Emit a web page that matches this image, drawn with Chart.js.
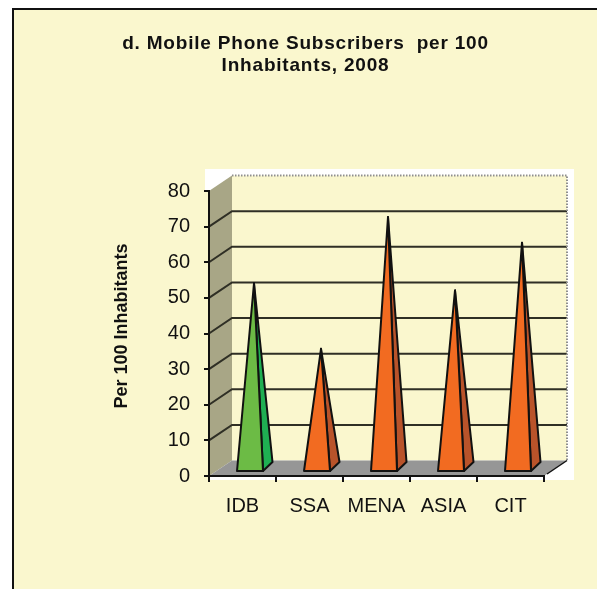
<!DOCTYPE html>
<html>
<head>
<meta charset="utf-8">
<style>html,body{margin:0;padding:0;background:#fff}canvas{display:block}</style>
<script src="https://cdn.jsdelivr.net/npm/chart.js@4"></script>
</head>
<body>
<div style="width:597px;height:589px"><canvas id="c" width="597" height="589"></canvas></div>
<script>
const categories = ['IDB', 'SSA', 'MENA', 'ASIA', 'CIT'];
const subscribers = [52, 33.6, 70.6, 50, 63.4];
const frontColors = ['#6CBB45', '#F26B21', '#F26B21', '#F26B21', '#F26B21'];
const sideColors = ['#1FAF52', '#B9532A', '#B9532A', '#B9532A', '#B9532A'];
const titleLines = ['d. Mobile Phone Subscribers  per 100', 'Inhabitants, 2008'];
const yAxisTitle = 'Per 100 Inhabitants';

const CREAM = '#FAF7CE', DX = 23, DY = 15.5;

const scene = {
  id: 'scene',
  beforeDraw(chart) {
    const { ctx, chartArea: a, scales: { y } } = chart;
    ctx.save();
    ctx.fillStyle = '#fff';
    ctx.fillRect(0, 0, 597, 589);
    ctx.fillStyle = CREAM;
    ctx.fillRect(13, 9, 584, 580);
    ctx.strokeStyle = '#111';
    ctx.lineWidth = 2;
    ctx.beginPath();
    ctx.moveTo(13, 589); ctx.lineTo(13, 9); ctx.lineTo(597, 9);
    ctx.stroke();
    // white panel behind the plot
    ctx.fillStyle = '#fff';
    ctx.fillRect(205, 169, 369, 311);
    ctx.fillStyle = CREAM;
    ctx.fillRect(205, 191, 4, 290);
    const top = y.getPixelForValue(80), zero = y.getPixelForValue(0);
    // back wall
    ctx.fillStyle = CREAM;
    ctx.fillRect(a.left + DX, top - DY, a.right - a.left, zero - top);
    // side wall
    ctx.fillStyle = '#A8A686';
    ctx.beginPath();
    ctx.moveTo(a.left, top); ctx.lineTo(a.left + DX, top - DY);
    ctx.lineTo(a.left + DX, zero - DY); ctx.lineTo(a.left, zero);
    ctx.closePath(); ctx.fill();
    // floor
    ctx.fillStyle = '#969696';
    ctx.beginPath();
    ctx.moveTo(a.left, zero); ctx.lineTo(a.right, zero);
    ctx.lineTo(a.right + DX, zero - DY); ctx.lineTo(a.left + DX, zero - DY);
    ctx.closePath(); ctx.fill();
    // grid lines
    ctx.strokeStyle = '#2f2f25';
    ctx.lineWidth = 2;
    y.ticks.forEach(t => {
      if (t.value === 0 || t.value === 80) return;
      const p = y.getPixelForValue(t.value);
      ctx.beginPath();
      ctx.moveTo(a.left, p); ctx.lineTo(a.left + DX, p - DY); ctx.lineTo(a.right + DX, p - DY);
      ctx.stroke();
    });
    // dotted outline of the back wall
    ctx.strokeStyle = '#8f8f8f';
    ctx.lineWidth = 2;
    ctx.setLineDash([1.5, 1.5]);
    ctx.beginPath();
    ctx.moveTo(a.left + DX, top - DY); ctx.lineTo(a.right + DX, top - DY); ctx.lineTo(a.right + DX, zero - DY);
    ctx.stroke();
    ctx.setLineDash([]);
    // floor edge
    ctx.strokeStyle = '#111';
    ctx.lineWidth = 1.5;
    ctx.beginPath();
    ctx.moveTo(a.right + 3, zero - 2); ctx.lineTo(a.right + DX, zero - DY);
    ctx.stroke();
    ctx.restore();
    // the reference's title is set a little wider than its font
    ctx.letterSpacing = '0.8px';
  },
  beforeDatasetsDraw(chart) {
    chart.ctx.letterSpacing = '0px';
  },
  beforeDatasetDraw(chart, args) {
    const { ctx } = chart;
    const ds = chart.data.datasets[args.index];
    args.meta.data.forEach((el, i) => {
      const apex = [el.x + 11.5, el.y - 7.5];
      const fl = [el.x - 5.5, el.base - 4];
      const fr = [el.x + 20.5, el.base - 4];
      const br = [el.x + 30, el.base - 13];
      ctx.save();
      ctx.strokeStyle = '#111';
      ctx.lineWidth = 2;
      ctx.lineJoin = 'round';
      const face = (pts, color) => {
        ctx.beginPath();
        pts.forEach((p, k) => k ? ctx.lineTo(p[0], p[1]) : ctx.moveTo(p[0], p[1]));
        ctx.closePath();
        ctx.fillStyle = color;
        ctx.fill();
        ctx.stroke();
      };
      face([fr, br, apex], ds.sideColors[i]);
      face([fl, fr, apex], ds.backgroundColor[i]);
      ctx.restore();
    });
    return false;
  },
  afterDraw(chart) {
    const { ctx } = chart;
    ctx.save();
    ctx.translate(122, 326);
    ctx.rotate(-Math.PI / 2);
    ctx.font = 'bold 18px "Liberation Sans"';
    ctx.fillStyle = '#111';
    ctx.textAlign = 'center';
    ctx.textBaseline = 'middle';
    ctx.fillText(yAxisTitle, 0, 0);
    ctx.restore();
  }
};

new Chart(document.getElementById('c'), {
  type: 'bar',
  data: {
    labels: categories,
    datasets: [{
      data: subscribers,
      backgroundColor: frontColors,
      sideColors: sideColors,
      borderColor: '#111'
    }]
  },
  plugins: [scene],
  options: {
    responsive: false,
    animation: false,
    layout: { padding: { left: 14, right: 0, top: 0, bottom: 0 } },
    plugins: {
      legend: { display: false },
      tooltip: { enabled: false },
      title: {
        display: true,
        text: titleLines,
        color: '#111',
        font: { family: '"Liberation Sans"', size: 19, weight: 'bold', lineHeight: 22 / 19 },
        padding: { top: 33, bottom: 114 }
      }
    },
    scales: {
      x: {
        afterFit(s) { s.height = 113; },
        grid: { drawOnChartArea: false, drawTicks: true, tickLength: 6, color: '#111', lineWidth: 2 },
        border: { color: '#111', width: 2 },
        ticks: { z: 1, color: '#111', autoSkip: false, maxRotation: 0, padding: 12, font: { family: '"Liberation Sans"', size: 20 } }
      },
      y: {
        min: 0, max: 80,
        afterFit(s) { s.width = 195; },
        grid: { drawOnChartArea: false, drawTicks: true, tickLength: 5, color: '#111', lineWidth: 2 },
        border: { color: '#111', width: 2 },
        ticks: { z: 1, stepSize: 10, color: '#111', padding: 14, font: { family: '"Liberation Sans"', size: 20 } }
      },
      rightGap: {
        position: 'right',
        afterFit(s) { s.width = 53; },
        grid: { display: false },
        border: { display: false },
        ticks: { display: false }
      }
    }
  }
});
</script>
</body>
</html>
